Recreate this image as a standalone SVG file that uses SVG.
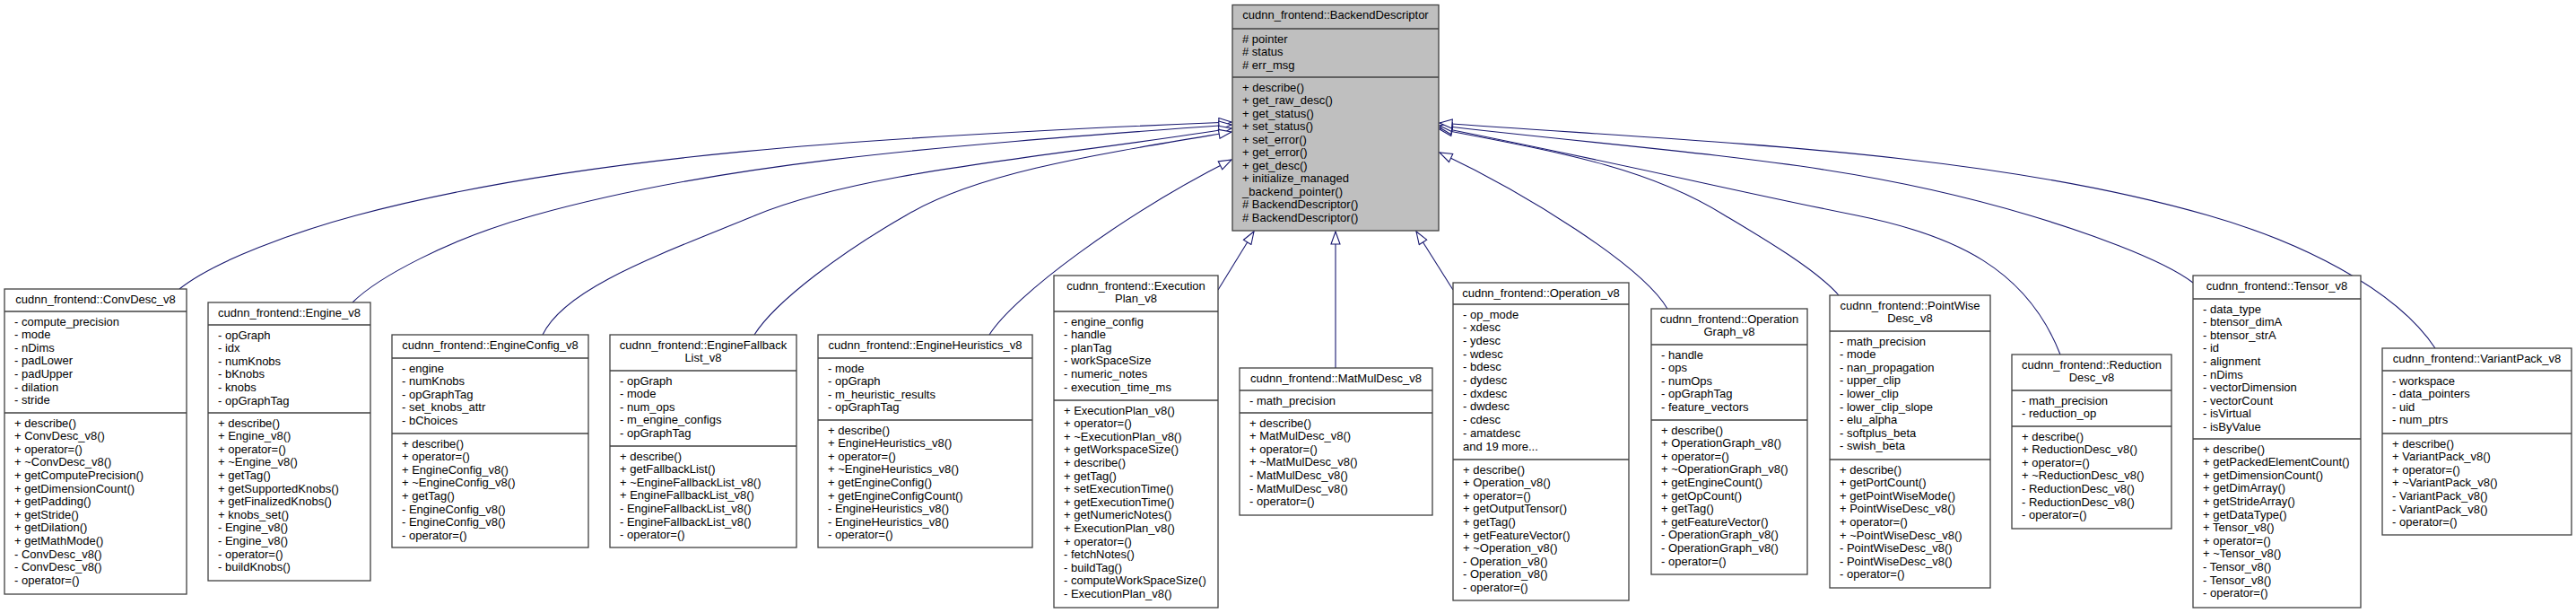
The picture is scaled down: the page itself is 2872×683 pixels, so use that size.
<svg xmlns="http://www.w3.org/2000/svg" width="2872" height="683" viewBox="0 0 2872 683">
<style>
.box{fill:#fff;stroke:#404040;stroke-width:1.3}
.base{fill:#bfbfbf}
.sep{stroke:#404040;stroke-width:1.3}
text{font-family:"Liberation Sans",Arial,Helvetica,sans-serif;font-size:13px;fill:#000}
.t{text-anchor:middle}
.e{fill:none;stroke:#191970;stroke-width:1.1;marker-end:url(#tri)}
</style>
<defs>
<marker id="tri" markerUnits="userSpaceOnUse" viewBox="0 0 16 12" markerWidth="16" markerHeight="12" refX="15" refY="6" orient="auto">
<path d="M1,1 L15,6 L1,11 Z" fill="#fff" stroke="#191970" stroke-width="1.1"/>
</marker>
</defs>
<rect width="2872" height="683" fill="#fff"/>

<g id="edges">
<path class="e" d="M200,322 C240,290 330,258 397,240 C647,173 973,152 1373,136"/>
<path class="e" d="M393,337 C420,310 500,266 595,240 C795,184 1023,164 1373,139"/>
<path class="e" d="M605,373 C630,320 740,282 842,240 C962,190 1173,175 1373,143"/>
<path class="e" d="M841,373 C865,335 940,280 1010,240 C1090,192 1223,172 1373,147"/>
<path class="e" d="M1103,373 C1130,330 1250,240 1373,178"/>
<path class="e" d="M1358,323 L1398,258"/>
<path class="e" d="M1489,410 L1489,258"/>
<path class="e" d="M1620,323 L1579,258"/>
<path class="e" d="M1859,344 C1830,295 1700,215 1605,170"/>
<path class="e" d="M2050,329 C2025,300 1960,262 1923,240 C1843,190 1754,172 1605,144"/>
<path class="e" d="M2297,395 C2260,300 2180,262 2070,240 C1920,210 1854,192 1605,142"/>
<path class="e" d="M2445,315 C2410,288 2320,257 2263,240 C2063,180 1904,174 1605,140"/>
<path class="e" d="M2715,388 C2670,320 2560,268 2462,240 C2212,168 1904,159 1605,137"/>
</g>

<g id="BackendDescriptor">
<rect class="box base" x="1374" y="5.5" width="230" height="251.5"/>
<line class="sep" x1="1374" y1="32" x2="1604" y2="32"/>
<line class="sep" x1="1374" y1="86" x2="1604" y2="86"/>
<text class="t" x="1489" y="21">cudnn_frontend::BackendDescriptor</text>
<text x="1385" y="47.5"><tspan x="1385">#  pointer</tspan><tspan x="1385" dy="14.5">#  status</tspan><tspan x="1385" dy="14.5">#  err_msg</tspan></text>
<text x="1385" y="101.5"><tspan x="1385">+ describe()</tspan><tspan x="1385" dy="14.5">+ get_raw_desc()</tspan><tspan x="1385" dy="14.5">+ get_status()</tspan><tspan x="1385" dy="14.5">+ set_status()</tspan><tspan x="1385" dy="14.5">+ set_error()</tspan><tspan x="1385" dy="14.5">+ get_error()</tspan><tspan x="1385" dy="14.5">+ get_desc()</tspan><tspan x="1385" dy="14.5">+ initialize_managed</tspan><tspan x="1385" dy="14.5">_backend_pointer()</tspan><tspan x="1385" dy="14.5"># BackendDescriptor()</tspan><tspan x="1385" dy="14.5"># BackendDescriptor()</tspan></text>
</g>

<g id="ConvDesc_v8">
<rect class="box" x="5" y="322" width="203" height="340"/>
<line class="sep" x1="5" y1="347" x2="208" y2="347"/>
<line class="sep" x1="5" y1="460" x2="208" y2="460"/>
<text class="t" x="106.5" y="337.5">cudnn_frontend::ConvDesc_v8</text>
<text x="16" y="362.5"><tspan x="16">- compute_precision</tspan><tspan x="16" dy="14.6">- mode</tspan><tspan x="16" dy="14.6">- nDims</tspan><tspan x="16" dy="14.6">- padLower</tspan><tspan x="16" dy="14.6">- padUpper</tspan><tspan x="16" dy="14.6">- dilation</tspan><tspan x="16" dy="14.6">- stride</tspan></text>
<text x="16" y="475.5"><tspan x="16">+ describe()</tspan><tspan x="16" dy="14.6">+ ConvDesc_v8()</tspan><tspan x="16" dy="14.6">+ operator=()</tspan><tspan x="16" dy="14.6">+ ~ConvDesc_v8()</tspan><tspan x="16" dy="14.6">+ getComputePrecision()</tspan><tspan x="16" dy="14.6">+ getDimensionCount()</tspan><tspan x="16" dy="14.6">+ getPadding()</tspan><tspan x="16" dy="14.6">+ getStride()</tspan><tspan x="16" dy="14.6">+ getDilation()</tspan><tspan x="16" dy="14.6">+ getMathMode()</tspan><tspan x="16" dy="14.6">- ConvDesc_v8()</tspan><tspan x="16" dy="14.6">- ConvDesc_v8()</tspan><tspan x="16" dy="14.6">- operator=()</tspan></text>
</g>

<g id="Engine_v8">
<rect class="box" x="232" y="337" width="181" height="310"/>
<line class="sep" x1="232" y1="362" x2="413" y2="362"/>
<line class="sep" x1="232" y1="460" x2="413" y2="460"/>
<text class="t" x="322.5" y="352.5">cudnn_frontend::Engine_v8</text>
<text x="243" y="377.5"><tspan x="243">- opGraph</tspan><tspan x="243" dy="14.6">- idx</tspan><tspan x="243" dy="14.6">- numKnobs</tspan><tspan x="243" dy="14.6">- bKnobs</tspan><tspan x="243" dy="14.6">- knobs</tspan><tspan x="243" dy="14.6">- opGraphTag</tspan></text>
<text x="243" y="475.5"><tspan x="243">+ describe()</tspan><tspan x="243" dy="14.6">+ Engine_v8()</tspan><tspan x="243" dy="14.6">+ operator=()</tspan><tspan x="243" dy="14.6">+ ~Engine_v8()</tspan><tspan x="243" dy="14.6">+ getTag()</tspan><tspan x="243" dy="14.6">+ getSupportedKnobs()</tspan><tspan x="243" dy="14.6">+ getFinalizedKnobs()</tspan><tspan x="243" dy="14.6">+ knobs_set()</tspan><tspan x="243" dy="14.6">- Engine_v8()</tspan><tspan x="243" dy="14.6">- Engine_v8()</tspan><tspan x="243" dy="14.6">- operator=()</tspan><tspan x="243" dy="14.6">- buildKnobs()</tspan></text>
</g>

<g id="EngineConfig_v8">
<rect class="box" x="437" y="373" width="219" height="237"/>
<line class="sep" x1="437" y1="399" x2="656" y2="399"/>
<line class="sep" x1="437" y1="483" x2="656" y2="483"/>
<text class="t" x="546.5" y="388.5">cudnn_frontend::EngineConfig_v8</text>
<text x="448" y="414.5"><tspan x="448">- engine</tspan><tspan x="448" dy="14.6">- numKnobs</tspan><tspan x="448" dy="14.6">- opGraphTag</tspan><tspan x="448" dy="14.6">- set_knobs_attr</tspan><tspan x="448" dy="14.6">- bChoices</tspan></text>
<text x="448" y="498.5"><tspan x="448">+ describe()</tspan><tspan x="448" dy="14.6">+ operator=()</tspan><tspan x="448" dy="14.6">+ EngineConfig_v8()</tspan><tspan x="448" dy="14.6">+ ~EngineConfig_v8()</tspan><tspan x="448" dy="14.6">+ getTag()</tspan><tspan x="448" dy="14.6">- EngineConfig_v8()</tspan><tspan x="448" dy="14.6">- EngineConfig_v8()</tspan><tspan x="448" dy="14.6">- operator=()</tspan></text>
</g>

<g id="EngineFallbackList_v8">
<rect class="box" x="680" y="373" width="208" height="237"/>
<line class="sep" x1="680" y1="413" x2="888" y2="413"/>
<line class="sep" x1="680" y1="497" x2="888" y2="497"/>
<text class="t" x="784" y="388.5"><tspan x="784">cudnn_frontend::EngineFallback</tspan><tspan x="784" dy="14.6">List_v8</tspan></text>
<text x="691" y="428.5"><tspan x="691">- opGraph</tspan><tspan x="691" dy="14.6">- mode</tspan><tspan x="691" dy="14.6">- num_ops</tspan><tspan x="691" dy="14.6">- m_engine_configs</tspan><tspan x="691" dy="14.6">- opGraphTag</tspan></text>
<text x="691" y="512.5"><tspan x="691">+ describe()</tspan><tspan x="691" dy="14.6">+ getFallbackList()</tspan><tspan x="691" dy="14.6">+ ~EngineFallbackList_v8()</tspan><tspan x="691" dy="14.6">+ EngineFallbackList_v8()</tspan><tspan x="691" dy="14.6">- EngineFallbackList_v8()</tspan><tspan x="691" dy="14.6">- EngineFallbackList_v8()</tspan><tspan x="691" dy="14.6">- operator=()</tspan></text>
</g>

<g id="EngineHeuristics_v8">
<rect class="box" x="912" y="373" width="239" height="237"/>
<line class="sep" x1="912" y1="399" x2="1151" y2="399"/>
<line class="sep" x1="912" y1="468" x2="1151" y2="468"/>
<text class="t" x="1031.5" y="388.5">cudnn_frontend::EngineHeuristics_v8</text>
<text x="923" y="414.5"><tspan x="923">- mode</tspan><tspan x="923" dy="14.6">- opGraph</tspan><tspan x="923" dy="14.6">- m_heuristic_results</tspan><tspan x="923" dy="14.6">- opGraphTag</tspan></text>
<text x="923" y="483.5"><tspan x="923">+ describe()</tspan><tspan x="923" dy="14.6">+ EngineHeuristics_v8()</tspan><tspan x="923" dy="14.6">+ operator=()</tspan><tspan x="923" dy="14.6">+ ~EngineHeuristics_v8()</tspan><tspan x="923" dy="14.6">+ getEngineConfig()</tspan><tspan x="923" dy="14.6">+ getEngineConfigCount()</tspan><tspan x="923" dy="14.6">- EngineHeuristics_v8()</tspan><tspan x="923" dy="14.6">- EngineHeuristics_v8()</tspan><tspan x="923" dy="14.6">- operator=()</tspan></text>
</g>

<g id="ExecutionPlan_v8">
<rect class="box" x="1175" y="307" width="183" height="370"/>
<line class="sep" x1="1175" y1="347" x2="1358" y2="347"/>
<line class="sep" x1="1175" y1="446" x2="1358" y2="446"/>
<text class="t" x="1266.5" y="322.5"><tspan x="1266.5">cudnn_frontend::Execution</tspan><tspan x="1266.5" dy="14.6">Plan_v8</tspan></text>
<text x="1186" y="362.5"><tspan x="1186">- engine_config</tspan><tspan x="1186" dy="14.6">- handle</tspan><tspan x="1186" dy="14.6">- planTag</tspan><tspan x="1186" dy="14.6">- workSpaceSize</tspan><tspan x="1186" dy="14.6">- numeric_notes</tspan><tspan x="1186" dy="14.6">- execution_time_ms</tspan></text>
<text x="1186" y="461.5"><tspan x="1186">+ ExecutionPlan_v8()</tspan><tspan x="1186" dy="14.6">+ operator=()</tspan><tspan x="1186" dy="14.6">+ ~ExecutionPlan_v8()</tspan><tspan x="1186" dy="14.6">+ getWorkspaceSize()</tspan><tspan x="1186" dy="14.6">+ describe()</tspan><tspan x="1186" dy="14.6">+ getTag()</tspan><tspan x="1186" dy="14.6">+ setExecutionTime()</tspan><tspan x="1186" dy="14.6">+ getExecutionTime()</tspan><tspan x="1186" dy="14.6">+ getNumericNotes()</tspan><tspan x="1186" dy="14.6">+ ExecutionPlan_v8()</tspan><tspan x="1186" dy="14.6">+ operator=()</tspan><tspan x="1186" dy="14.6">- fetchNotes()</tspan><tspan x="1186" dy="14.6">- buildTag()</tspan><tspan x="1186" dy="14.6">- computeWorkSpaceSize()</tspan><tspan x="1186" dy="14.6">- ExecutionPlan_v8()</tspan></text>
</g>

<g id="MatMulDesc_v8">
<rect class="box" x="1382" y="410" width="215" height="164"/>
<line class="sep" x1="1382" y1="435" x2="1597" y2="435"/>
<line class="sep" x1="1382" y1="460" x2="1597" y2="460"/>
<text class="t" x="1489.5" y="425.5">cudnn_frontend::MatMulDesc_v8</text>
<text x="1393" y="450.5">- math_precision</text>
<text x="1393" y="475.5"><tspan x="1393">+ describe()</tspan><tspan x="1393" dy="14.6">+ MatMulDesc_v8()</tspan><tspan x="1393" dy="14.6">+ operator=()</tspan><tspan x="1393" dy="14.6">+ ~MatMulDesc_v8()</tspan><tspan x="1393" dy="14.6">- MatMulDesc_v8()</tspan><tspan x="1393" dy="14.6">- MatMulDesc_v8()</tspan><tspan x="1393" dy="14.6">- operator=()</tspan></text>
</g>

<g id="Operation_v8">
<rect class="box" x="1620" y="315" width="196" height="354"/>
<line class="sep" x1="1620" y1="339" x2="1816" y2="339"/>
<line class="sep" x1="1620" y1="512" x2="1816" y2="512"/>
<text class="t" x="1718" y="330.5">cudnn_frontend::Operation_v8</text>
<text x="1631" y="354.5"><tspan x="1631">- op_mode</tspan><tspan x="1631" dy="14.7">- xdesc</tspan><tspan x="1631" dy="14.7">- ydesc</tspan><tspan x="1631" dy="14.7">- wdesc</tspan><tspan x="1631" dy="14.7">- bdesc</tspan><tspan x="1631" dy="14.7">- dydesc</tspan><tspan x="1631" dy="14.7">- dxdesc</tspan><tspan x="1631" dy="14.7">- dwdesc</tspan><tspan x="1631" dy="14.7">- cdesc</tspan><tspan x="1631" dy="14.7">- amatdesc</tspan><tspan x="1631" dy="14.7">and 19 more...</tspan></text>
<text x="1631" y="527.5"><tspan x="1631">+ describe()</tspan><tspan x="1631" dy="14.6">+ Operation_v8()</tspan><tspan x="1631" dy="14.6">+ operator=()</tspan><tspan x="1631" dy="14.6">+ getOutputTensor()</tspan><tspan x="1631" dy="14.6">+ getTag()</tspan><tspan x="1631" dy="14.6">+ getFeatureVector()</tspan><tspan x="1631" dy="14.6">+ ~Operation_v8()</tspan><tspan x="1631" dy="14.6">- Operation_v8()</tspan><tspan x="1631" dy="14.6">- Operation_v8()</tspan><tspan x="1631" dy="14.6">- operator=()</tspan></text>
</g>

<g id="OperationGraph_v8">
<rect class="box" x="1841" y="344" width="174" height="296"/>
<line class="sep" x1="1841" y1="384" x2="2015" y2="384"/>
<line class="sep" x1="1841" y1="468" x2="2015" y2="468"/>
<text class="t" x="1928" y="359.5"><tspan x="1928">cudnn_frontend::Operation</tspan><tspan x="1928" dy="14.6">Graph_v8</tspan></text>
<text x="1852" y="399.5"><tspan x="1852">- handle</tspan><tspan x="1852" dy="14.6">- ops</tspan><tspan x="1852" dy="14.6">- numOps</tspan><tspan x="1852" dy="14.6">- opGraphTag</tspan><tspan x="1852" dy="14.6">- feature_vectors</tspan></text>
<text x="1852" y="483.5"><tspan x="1852">+ describe()</tspan><tspan x="1852" dy="14.6">+ OperationGraph_v8()</tspan><tspan x="1852" dy="14.6">+ operator=()</tspan><tspan x="1852" dy="14.6">+ ~OperationGraph_v8()</tspan><tspan x="1852" dy="14.6">+ getEngineCount()</tspan><tspan x="1852" dy="14.6">+ getOpCount()</tspan><tspan x="1852" dy="14.6">+ getTag()</tspan><tspan x="1852" dy="14.6">+ getFeatureVector()</tspan><tspan x="1852" dy="14.6">- OperationGraph_v8()</tspan><tspan x="1852" dy="14.6">- OperationGraph_v8()</tspan><tspan x="1852" dy="14.6">- operator=()</tspan></text>
</g>

<g id="PointWiseDesc_v8">
<rect class="box" x="2040" y="329" width="179" height="326"/>
<line class="sep" x1="2040" y1="369" x2="2219" y2="369"/>
<line class="sep" x1="2040" y1="512" x2="2219" y2="512"/>
<text class="t" x="2129.5" y="344.5"><tspan x="2129.5">cudnn_frontend::PointWise</tspan><tspan x="2129.5" dy="14.6">Desc_v8</tspan></text>
<text x="2051" y="384.5"><tspan x="2051">- math_precision</tspan><tspan x="2051" dy="14.6">- mode</tspan><tspan x="2051" dy="14.6">- nan_propagation</tspan><tspan x="2051" dy="14.6">- upper_clip</tspan><tspan x="2051" dy="14.6">- lower_clip</tspan><tspan x="2051" dy="14.6">- lower_clip_slope</tspan><tspan x="2051" dy="14.6">- elu_alpha</tspan><tspan x="2051" dy="14.6">- softplus_beta</tspan><tspan x="2051" dy="14.6">- swish_beta</tspan></text>
<text x="2051" y="527.5"><tspan x="2051">+ describe()</tspan><tspan x="2051" dy="14.6">+ getPortCount()</tspan><tspan x="2051" dy="14.6">+ getPointWiseMode()</tspan><tspan x="2051" dy="14.6">+ PointWiseDesc_v8()</tspan><tspan x="2051" dy="14.6">+ operator=()</tspan><tspan x="2051" dy="14.6">+ ~PointWiseDesc_v8()</tspan><tspan x="2051" dy="14.6">- PointWiseDesc_v8()</tspan><tspan x="2051" dy="14.6">- PointWiseDesc_v8()</tspan><tspan x="2051" dy="14.6">- operator=()</tspan></text>
</g>

<g id="ReductionDesc_v8">
<rect class="box" x="2243" y="395" width="178" height="194"/>
<line class="sep" x1="2243" y1="435" x2="2421" y2="435"/>
<line class="sep" x1="2243" y1="475" x2="2421" y2="475"/>
<text class="t" x="2332" y="410.5"><tspan x="2332">cudnn_frontend::Reduction</tspan><tspan x="2332" dy="14.6">Desc_v8</tspan></text>
<text x="2254" y="450.5"><tspan x="2254">- math_precision</tspan><tspan x="2254" dy="14.6">- reduction_op</tspan></text>
<text x="2254" y="490.5"><tspan x="2254">+ describe()</tspan><tspan x="2254" dy="14.6">+ ReductionDesc_v8()</tspan><tspan x="2254" dy="14.6">+ operator=()</tspan><tspan x="2254" dy="14.6">+ ~ReductionDesc_v8()</tspan><tspan x="2254" dy="14.6">- ReductionDesc_v8()</tspan><tspan x="2254" dy="14.6">- ReductionDesc_v8()</tspan><tspan x="2254" dy="14.6">- operator=()</tspan></text>
</g>

<g id="Tensor_v8">
<rect class="box" x="2445" y="307" width="187" height="370"/>
<line class="sep" x1="2445" y1="333" x2="2632" y2="333"/>
<line class="sep" x1="2445" y1="489" x2="2632" y2="489"/>
<text class="t" x="2538.5" y="322.5">cudnn_frontend::Tensor_v8</text>
<text x="2456" y="348.5"><tspan x="2456">- data_type</tspan><tspan x="2456" dy="14.6">- btensor_dimA</tspan><tspan x="2456" dy="14.6">- btensor_strA</tspan><tspan x="2456" dy="14.6">- id</tspan><tspan x="2456" dy="14.6">- alignment</tspan><tspan x="2456" dy="14.6">- nDims</tspan><tspan x="2456" dy="14.6">- vectorDimension</tspan><tspan x="2456" dy="14.6">- vectorCount</tspan><tspan x="2456" dy="14.6">- isVirtual</tspan><tspan x="2456" dy="14.6">- isByValue</tspan></text>
<text x="2456" y="504.5"><tspan x="2456">+ describe()</tspan><tspan x="2456" dy="14.6">+ getPackedElementCount()</tspan><tspan x="2456" dy="14.6">+ getDimensionCount()</tspan><tspan x="2456" dy="14.6">+ getDimArray()</tspan><tspan x="2456" dy="14.6">+ getStrideArray()</tspan><tspan x="2456" dy="14.6">+ getDataType()</tspan><tspan x="2456" dy="14.6">+ Tensor_v8()</tspan><tspan x="2456" dy="14.6">+ operator=()</tspan><tspan x="2456" dy="14.6">+ ~Tensor_v8()</tspan><tspan x="2456" dy="14.6">- Tensor_v8()</tspan><tspan x="2456" dy="14.6">- Tensor_v8()</tspan><tspan x="2456" dy="14.6">- operator=()</tspan></text>
</g>

<g id="VariantPack_v8">
<rect class="box" x="2656" y="388" width="211" height="208"/>
<line class="sep" x1="2656" y1="413" x2="2867" y2="413"/>
<line class="sep" x1="2656" y1="483" x2="2867" y2="483"/>
<text class="t" x="2761.5" y="403.5">cudnn_frontend::VariantPack_v8</text>
<text x="2667" y="428.5"><tspan x="2667">- workspace</tspan><tspan x="2667" dy="14.6">- data_pointers</tspan><tspan x="2667" dy="14.6">- uid</tspan><tspan x="2667" dy="14.6">- num_ptrs</tspan></text>
<text x="2667" y="498.5"><tspan x="2667">+ describe()</tspan><tspan x="2667" dy="14.6">+ VariantPack_v8()</tspan><tspan x="2667" dy="14.6">+ operator=()</tspan><tspan x="2667" dy="14.6">+ ~VariantPack_v8()</tspan><tspan x="2667" dy="14.6">- VariantPack_v8()</tspan><tspan x="2667" dy="14.6">- VariantPack_v8()</tspan><tspan x="2667" dy="14.6">- operator=()</tspan></text>
</g>
</svg>
